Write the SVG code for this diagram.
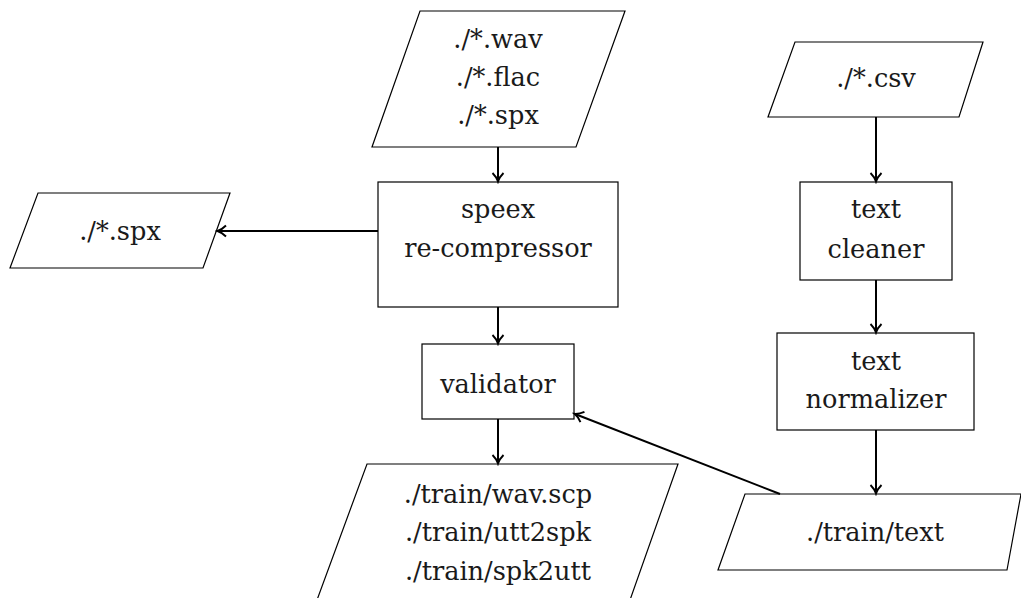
<svg xmlns="http://www.w3.org/2000/svg" width="1021" height="598" viewBox="0 0 1021 598">
<defs>
<style>
.shape{fill:#fff;stroke:#000;stroke-width:1.2}
.lbl{font-family:"DejaVu Serif","Liberation Serif",serif;font-size:25.6px;fill:#1a1a1a;text-anchor:middle}
.conn{fill:none;stroke:#000;stroke-width:2}
</style>
<marker id="arr" markerWidth="14" markerHeight="14" refX="11" refY="7" orient="auto" markerUnits="userSpaceOnUse">
<path d="M3,1.5 Q7,5.5 11.5,7 Q7,8.5 3,12.5" fill="none" stroke="#000" stroke-width="1.9"/>
</marker>
</defs>
<rect width="1021" height="598" fill="#fff"/>
<g id="in-audio">
<polygon class="shape" points="420,11 625,11 576,147 372,147"/>
<text class="lbl" x="498" y="48">./*.wav</text>
<text class="lbl" x="498" y="86">./*.flac</text>
<text class="lbl" x="498" y="124">./*.spx</text>
</g>
<g id="out-spx">
<polygon class="shape" points="38,193 230,193 203,268 10,268"/>
<text class="lbl" x="120" y="240">./*.spx</text>
</g>
<g id="speex">
<rect class="shape" x="378" y="182" width="240" height="125"/>
<text class="lbl" x="498" y="218">speex</text>
<text class="lbl" x="498" y="257">re-compressor</text>
</g>
<g id="validator">
<rect class="shape" x="422" y="344" width="152" height="75"/>
<text class="lbl" x="498" y="393">validator</text>
</g>
<g id="out-train">
<polygon class="shape" points="367,464 678,464 630,600 317,600"/>
<text class="lbl" x="498" y="503">./train/wav.scp</text>
<text class="lbl" x="498" y="541">./train/utt2spk</text>
<text class="lbl" x="498" y="580">./train/spk2utt</text>
</g>
<g id="in-csv">
<polygon class="shape" points="795,42 983,42 959,117 768,117"/>
<text class="lbl" x="876" y="87">./*.csv</text>
</g>
<g id="cleaner">
<rect class="shape" x="800" y="182" width="152" height="98"/>
<text class="lbl" x="876" y="218">text</text>
<text class="lbl" x="876" y="258">cleaner</text>
</g>
<g id="normalizer">
<rect class="shape" x="777" y="333" width="197" height="97"/>
<text class="lbl" x="876" y="370">text</text>
<text class="lbl" x="876" y="408">normalizer</text>
</g>
<g id="train-text">
<polygon class="shape" points="745,494 1021,494 1007,570 718,570"/>
<text class="lbl" x="875" y="541">./train/text</text>
</g>
<g id="connectors">
<line class="conn" x1="498" y1="147" x2="498" y2="181" marker-end="url(#arr)"/>
<line class="conn" x1="378" y1="231" x2="218" y2="231" marker-end="url(#arr)"/>
<line class="conn" x1="498" y1="307" x2="498" y2="343" marker-end="url(#arr)"/>
<line class="conn" x1="498" y1="419" x2="498" y2="463" marker-end="url(#arr)"/>
<line class="conn" x1="876" y1="117" x2="876" y2="181" marker-end="url(#arr)"/>
<line class="conn" x1="876" y1="280" x2="876" y2="332" marker-end="url(#arr)"/>
<line class="conn" x1="876" y1="430" x2="876" y2="493" marker-end="url(#arr)"/>
<line class="conn" x1="780" y1="494" x2="575" y2="414" marker-end="url(#arr)"/>
</g>
</svg>
